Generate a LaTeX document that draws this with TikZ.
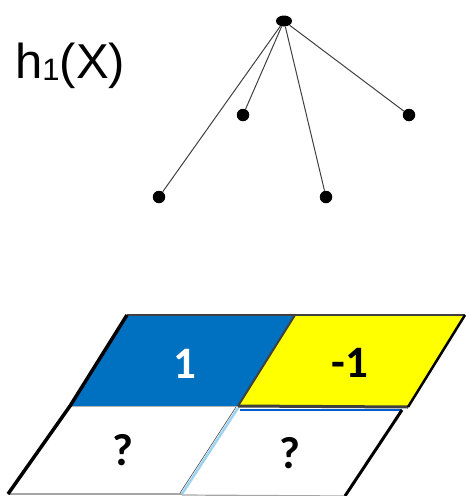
\documentclass[tikz,border=0pt]{standalone}
\usepackage{fontspec}
\setmainfont{Liberation Sans}
\newfontfamily\cellfont{Carlito}
\usetikzlibrary{positioning,shapes.geometric}
\definecolor{cellblue}{HTML}{0070C0}
\definecolor{cellyellow}{HTML}{FFFF00}
\definecolor{rimgray}{HTML}{404040}
\definecolor{seamblue}{HTML}{9DD3F2}

\begin{document}
\begin{tikzpicture}[x=1pt,y=-1pt,
  leaf/.style={circle,fill=black,inner sep=0pt,minimum size=12.5pt},
  branch/.style={draw=black!75,line width=1pt},
  celltext/.style={font=\cellfont\bfseries\fontsize{45}{45}\selectfont,inner sep=0pt}]
\useasboundingbox (0,0) rectangle (466,496);
% the tree h_1
\node[ellipse,fill=black,inner sep=0pt,minimum width=16pt,minimum height=11pt] (root) at (284,21) {};
\node[leaf] (leafa) at (159,197) {};
\node[leaf] (leafb) at (243,115) {};
\node[leaf] (leafc) at (326,197) {};
\node[leaf] (leafd) at (409,115) {};
\foreach \l in {leafa,leafb,leafc,leafd}
  \draw[branch] (root) -- (\l);
\node[anchor=base west,inner sep=0pt,font=\fontsize{49}{49}\selectfont] (hlabel) at (15,78)
  {h\raisebox{-2pt}{\fontsize{31}{31}\selectfont 1}(X)};

% the four cells
\fill[cellblue] (127,315) -- (295,315) -- (238,406) -- (70,406) -- cycle;
\fill[cellyellow] (295,315) -- (465,315) -- (408,407) -- (238,406) -- cycle;
\draw[black!30, line width=1pt] (70,406) -- (238,406);
\draw[black!35, line width=1.2pt] (8,494) -- (182,494);
\draw[black!35, line width=1.2pt] (182,495) -- (345,496);
\draw[cellblue!80!blue, line width=2pt] (240,410) -- (402,410);
\draw[rimgray, line width=3pt] (238,406) -- (408,407);
\draw[rimgray, line width=2pt] (127,315) -- (465,315);
\draw[rimgray, line width=2pt] (295,315) -- (238,406);
\draw[seamblue, line width=2.5pt] (238,408) -- (182,494);
\draw[black!70, line width=0.6pt] (236,407) -- (180,493);
\draw[line width=3.5pt] (127,315) -- (70,406) -- (8,494);
\draw[line width=2.5pt] (465,315) -- (408,407);
\draw[line width=3pt] (402,410) -- (345,496);

\node[celltext,text=white] (one) at (185,364) {1};
\node[celltext] (minusone) at (350,363) {-1};
\node[celltext] (qleft) at (123,450) {?};
\node[celltext] (qright) at (290,453) {?};
\end{tikzpicture}
\end{document}
